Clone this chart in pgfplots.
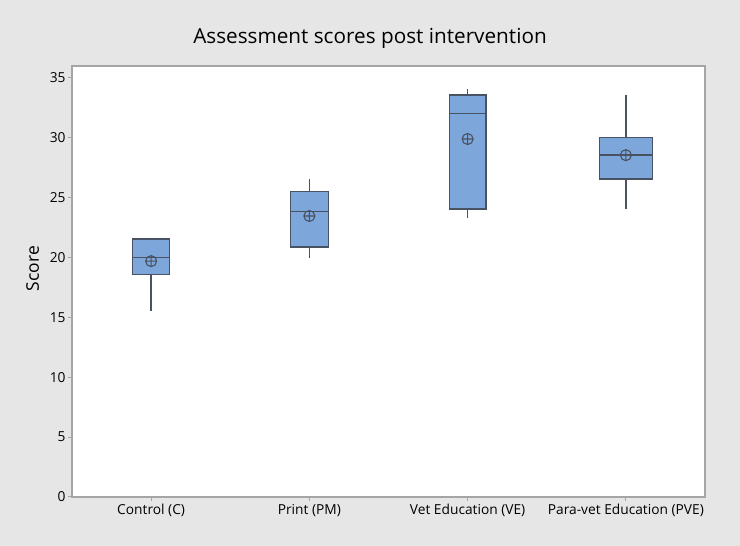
\documentclass[border=0pt]{standalone}
\usepackage{pgfplots}
\pgfplotsset{compat=1.18}
\usepgfplotslibrary{statistics}
\usetikzlibrary{plotmarks}
\usepackage{fontspec}
\setmainfont{Open Sans}
\definecolor{bg}{RGB}{230,230,230}
\definecolor{boxfill}{RGB}{125,166,218}
\definecolor{boxedge}{RGB}{72,82,98}
\definecolor{axgray}{RGB}{165,165,165}
\begin{document}
\begin{tikzpicture}[x=1bp,y=1bp]
\fill[bg] (0,0) rectangle (740,546);
\node[font=\fontsize{20.8}{24}\selectfont] at (370,508) {Assessment scores post intervention};
\begin{axis}[at={(72bp,49bp)}, anchor=south west, scale only axis,
  width=633bp, height=431bp,
  xmin=0.5, xmax=4.5, ymin=0, ymax=36,
  xtick={1,2,3,4},
  xticklabels={Control (C), Print (PM), Vet Education (VE), Para-vet Education (PVE)},
  ytick={0,5,...,35},
  axis line style={axgray, line width=1.3bp},
  tick style={axgray, line width=1bp},
  tick align=outside, tick pos=left, major tick length=4bp,
  ticklabel style={font=\fontsize{13.8}{16}\selectfont, text=black},
  yticklabel style={xshift=1bp},
  /pgf/number format/assume math mode=true,
  ylabel={Score},
  ylabel style={font=\fontsize{17.5}{20}\selectfont, at={(axis description cs:-0.062,0.53)}, anchor=center},
  boxplot/draw direction=y,
  axis background/.style={fill=white},
  clip=false,
]
\addplot[boxplot prepared={lower whisker=15.5, lower quartile=18.6, median=20.0, upper quartile=21.55, upper whisker=21.55, box extend=0.234, whisker extend=0, draw position=1},
  fill=boxfill, draw=boxedge, line width=1.5bp] coordinates {};
\addplot[boxplot prepared={lower whisker=20.0, lower quartile=20.9, median=23.83, upper quartile=25.5, upper whisker=26.55, box extend=0.24, whisker extend=0, draw position=2},
  fill=boxfill, draw=boxedge, line width=1.5bp] coordinates {};
\addplot[boxplot prepared={lower whisker=23.3, lower quartile=24.05, median=32.05, upper quartile=33.58, upper whisker=34.08, box extend=0.23, whisker extend=0, draw position=3},
  fill=boxfill, draw=boxedge, line width=1.5bp] coordinates {};
\addplot[boxplot prepared={lower whisker=24.03, lower quartile=26.54, median=28.57, upper quartile=30.02, upper whisker=33.58, box extend=0.335, whisker extend=0, draw position=4},
  fill=boxfill, draw=boxedge, line width=1.5bp] coordinates {};
\addplot[only marks, mark=oplus, mark size=5.5bp, mark options={draw=boxedge, line width=1.1bp, fill=none}]
  coordinates {(1,19.7) (2,23.47) (3,29.9) (4,28.55)};
\end{axis}
\end{tikzpicture}
\end{document}
